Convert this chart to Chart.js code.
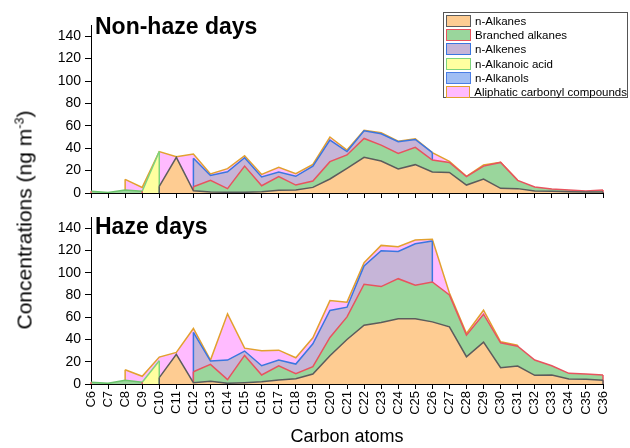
<!DOCTYPE html>
<html>
<head>
<meta charset="utf-8">
<script src="https://cdn.jsdelivr.net/npm/chart.js@4.4.1/dist/chart.umd.min.js"></script>
<style>
  body { margin: 0; background: #fff; font-family: "Liberation Sans", Arial, sans-serif; color: #000; }
  #wrap { position: relative; width: 630px; height: 448px; overflow: hidden; }
  canvas { position: absolute; left: 0; }
  #c-top { top: 0; }
  #c-bottom { top: 200px; }
  .panel-title { position: absolute; left: 95px; font-weight: bold; font-size: 23px; line-height: 1; white-space: nowrap; }
  #ytitle { position: absolute; left: 24px; top: 220px; transform: translate(-50%, -50%) rotate(-90deg);
            white-space: nowrap; font-size: 21px; line-height: 1; }
  #ytitle sup { font-size: 0.6em; vertical-align: super; line-height: 0; }
  #legend { position: absolute; left: 443px; top: 12px; width: 185px; height: 86px; border: 1px solid #555;
            background: #fff; box-sizing: border-box; padding-top: 1px; }
  .row { height: 14.2px; display: flex; align-items: center; font-size: 11.5px; white-space: nowrap; }
  .sw { width: 25px; height: 12px; box-sizing: border-box; border: 1.5px solid; margin: 0 4px 0 2px; }
</style>
</head>
<body>
<div id="wrap">
  <canvas id="c-top" width="630" height="210"></canvas>
  <canvas id="c-bottom" width="630" height="248"></canvas>
  <div class="panel-title" style="top:15px">Non-haze days</div>
  <div class="panel-title" style="top:215px">Haze days</div>
  <div id="ytitle">Concentrations (ng m<sup>-3</sup>)</div>
  <div id="legend"></div>
</div>
<script>
const _ = null; // compound not reported at this carbon number

const categories = ['C6','C7','C8','C9','C10','C11','C12','C13','C14','C15','C16','C17','C18','C19','C20',
  'C21','C22','C23','C24','C25','C26','C27','C28','C29','C30','C31','C32','C33','C34','C35','C36'];

const seriesNames = ['n-Alkanes', 'Branched alkanes', 'n-Alkenes', 'n-Alkanoic acid', 'n-Alkanols', 'Aliphatic carbonyl compounds'];
const fillColors = ['#FECC92', '#9AD69C', '#C6B5D8', '#FFFFA0', '#A0BEF4', '#FFBBFF'];
const lineColors = ['#5c5c5c', '#E8535E', '#3A76E0', '#7DD37D', '#4A7EE6', '#E2A12E'];

const yTicks = [0, 20, 40, 60, 80, 100, 120, 140];

// --- Non-haze days (ng m-3) ---
const nhAlkanes   = [_, _, _, _, 6, 31.8, 2, 1, 0.6, 0.6, 1.2, 2.4, 2.7, 5, 12.5, 22, 31.8, 28.5, 21.4, 25.3, 18.7, 18.4, 7.1, 12.5, 4.2, 3.9, 1.8, 1.5, 1.2, 0.9, 0.9];
const nhBranched  = [1.5, 0.5, 2.7, 1.5, _, _, 3.6, 10.3, 3.3, 23.4, 5.3, 12.2, 4.4, 5.7, 15.5, 12, 16.9, 14.3, 14, 15.4, 10.7, 8.9, 7.5, 11.5, 23.1, 7.4, 3.5, 2.1, 1.5, 0.9, 1.8];
const nhAlkenes   = [_, _, _, _, _, _, 25.4, 4.4, 15.1, 7.5, 7.8, 4.1, 7.8, 13.3, 19.2, 3, 6.8, 10.1, 10.4, 7.1, 6.6, _, _, _, _, _, _, _, _, _, _];
const nhAcid      = [_, _, _, 0, 31, _, _, _, _, _, _, _, _, _, _, _, _, _, _, _, _, _, _, _, _, _, _, _, _, _, _];
const nhAlkanols  = [_, _, _, _, _, _, _, _, _, _, _, _, _, _, _, _, _, _, _, _, _, _, _, _, _, _, _, _, _, _, _];
const nhCarbonyl  = [_, _, 9.5, 3.5, 0, 0.6, 3.8, 1.3, 2.7, 1.8, 2.3, 4.2, 2.3, 1.5, 2.8, 1.3, 0.5, 0.9, 0.5, 0.6, 0, 0.9, 0.3, 1, 0, 0, _, _, _, _, _];

// --- Haze days (ng m-3) ---
const hzAlkanes   = [_, _, _, _, 5.7, 26.6, 1.2, 2.4, 0.6, 1.2, 2.1, 3.6, 4.8, 9, 25.4, 40, 52.8, 55.2, 58.5, 58.5, 55.8, 51.3, 24.5, 37.6, 14.6, 16.1, 7.8, 8.1, 4.5, 4.2, 3.3];
const hzBranched  = [1.5, 0.6, 3.3, 1.5, _, _, 9.8, 15.2, 3.3, 24.5, 6, 12.8, 4.5, 6.5, 16.4, 20.3, 36.8, 32.3, 36.1, 30.2, 35.8, 28.7, 19.4, 25.1, 22.4, 17.9, 13.7, 8.3, 5.1, 4.8, 4.8];
const hzAlkenes   = [_, _, _, _, _, _, 35.3, 3, 17.6, 3.9, 8.3, 5.1, 8.6, 20.6, 24.2, 8.7, 16.4, 32.2, 24.5, 37.3, 36.8, _, _, _, _, _, _, _, _, _, _];
const hzAcid      = [_, _, _, 0, 15.2, _, _, _, _, _, _, _, _, _, _, _, _, _, _, _, _, _, _, _, _, _, _, _, _, _, _];
const hzAlkanols  = [_, _, _, _, _, _, _, _, _, _, _, _, _, _, _, _, _, _, _, _, _, _, _, _, _, _, _, _, _, _, _];
const hzCarbonyl  = [_, _, 9.5, 5.4, 3.3, 1.8, 3.6, 0.9, 41.5, 2.6, 13.5, 8.9, 5.7, 5.4, 8.9, 4.5, 3, 4.8, 4.2, 3.3, 1.7, 1.8, 1.5, 3.6, 0.9, 0.9, _, _, _, _, _];

// cumulative top edge of each layer (missing compounds count as 0 for the ones above)
function stackUp(layers) {
  return layers.map((vals, s) => vals.map((v, i) => {
    if (v === null) return null;
    let sum = 0;
    for (let k = 0; k <= s; k++) sum += layers[k][i] || 0;
    return +sum.toFixed(2);
  }));
}

function makeDatasets(layers) {
  return stackUp(layers).map((data, s) => ({
    label: seriesNames[s],
    data,
    fill: 'origin',
    backgroundColor: fillColors[s],
    borderColor: lineColors[s],
    borderWidth: 1.5,
    pointRadius: 0,
    tension: 0,
    spanGaps: false,
    // short-chain end of the branched layer shows the acid's green edge in the original
    segment: s === 1 ? { borderColor: c => c.p1DataIndex <= 3 ? '#6cc46c' : undefined } : undefined
  }));
}

// Origin closes each area with a vertical edge where a layer starts or stops
const areaEdges = {
  id: 'areaEdges',
  afterDatasetDraw(chart, args) {
    const ds = chart.data.datasets[args.index];
    const pts = args.meta.data;
    const y0 = chart.scales.y.getPixelForValue(0);
    const ctx = chart.ctx;
    ctx.save();
    ctx.strokeStyle = ds.borderColor;
    ctx.lineWidth = ds.borderWidth;
    ds.data.forEach((v, i) => {
      if (v === null) return;
      const prev = i > 0 ? ds.data[i - 1] : null;
      const next = i < ds.data.length - 1 ? ds.data[i + 1] : null;
      if ((prev === null) === (next === null)) return;
      ctx.beginPath();
      ctx.moveTo(pts[i].x, pts[i].y);
      ctx.lineTo(pts[i].x, y0);
      ctx.stroke();
    });
    ctx.restore();
  }
};

const fontFamily = '"Liberation Sans", Arial, sans-serif';

function makeOptions(isBottom) {
  return {
    responsive: false,
    animation: false,
    layout: { padding: { left: 0, right: 27, top: isBottom ? 17 : 25, bottom: 0 } },
    plugins: { legend: { display: false }, tooltip: { enabled: false } },
    scales: {
      x: {
        type: 'category',
        offset: false,
        grid: { drawOnChartArea: false, tickLength: 5, color: '#000' },
        border: { color: '#000', width: 1 },
        ticks: {
          display: isBottom,
          autoSkip: false, minRotation: 90, maxRotation: 90, padding: 2,
          color: '#000', font: { family: fontFamily, size: 13 }
        },
        title: {
          display: isBottom, text: 'Carbon atoms', color: '#000',
          font: { family: fontFamily, size: 18 }, padding: { top: 2, bottom: 0 }
        },
        afterFit: s => { s.height = isBottom ? 64 : 17; }
      },
      y: {
        min: 0, max: 150,
        grid: { drawOnChartArea: false, tickLength: 6, color: '#000' },
        border: { color: '#000', width: 1 },
        ticks: {
          stepSize: 10, padding: 4, color: '#000', font: { family: fontFamily, size: 14 },
          callback: v => yTicks.includes(v) ? v : ''
        },
        afterFit: s => { s.width = 91; }
      }
    }
  };
}

new Chart(document.getElementById('c-top'), {
  type: 'line',
  data: { labels: categories, datasets: makeDatasets([nhAlkanes, nhBranched, nhAlkenes, nhAcid, nhAlkanols, nhCarbonyl]) },
  options: makeOptions(false),
  plugins: [areaEdges]
});

new Chart(document.getElementById('c-bottom'), {
  type: 'line',
  data: { labels: categories, datasets: makeDatasets([hzAlkanes, hzBranched, hzAlkenes, hzAcid, hzAlkanols, hzCarbonyl]) },
  options: makeOptions(true),
  plugins: [areaEdges]
});

// legend box
const legendEl = document.getElementById('legend');
legendEl.innerHTML = seriesNames.map((name, i) => `
  <div class="row"><span class="sw" style="background:${fillColors[i]};border-color:${lineColors[i]}"></span>${name}</div>
`).join('');
</script>
</body>
</html>
